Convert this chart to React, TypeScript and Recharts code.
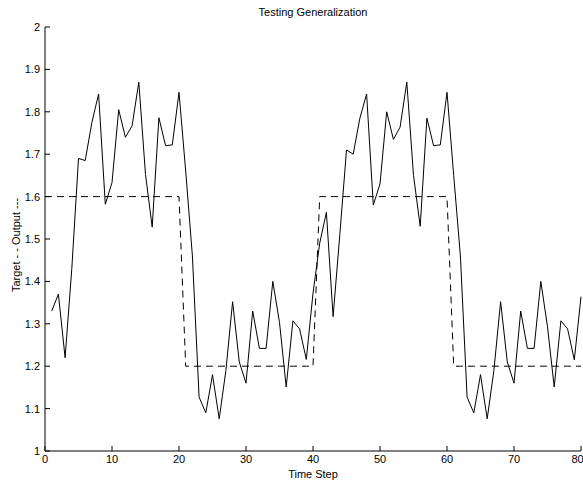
import { LineChart, Line, XAxis, YAxis } from 'recharts';

const steps = [
  0, 1, 2, 3, 4, 5, 6, 7, 8, 9, 10, 11, 12, 13, 14, 15, 16, 17, 18, 19, 20,
  21, 22, 23, 24, 25, 26, 27, 28, 29, 30, 31, 32, 33, 34, 35, 36, 37, 38, 39, 40,
  41, 42, 43, 44, 45, 46, 47, 48, 49, 50, 51, 52, 53, 54, 55, 56, 57, 58, 59, 60,
  61, 62, 63, 64, 65, 66, 67, 68, 69, 70, 71, 72, 73, 74, 75, 76, 77, 78, 79, 80,
];

// target, dashed
const target = [
  1.6, 1.6, 1.6, 1.6, 1.6, 1.6, 1.6, 1.6, 1.6, 1.6, 1.6, 1.6, 1.6, 1.6, 1.6, 1.6, 1.6, 1.6, 1.6, 1.6, 1.6,
  1.2, 1.2, 1.2, 1.2, 1.2, 1.2, 1.2, 1.2, 1.2, 1.2, 1.2, 1.2, 1.2, 1.2, 1.2, 1.2, 1.2, 1.2, 1.2, 1.2,
  1.6, 1.6, 1.6, 1.6, 1.6, 1.6, 1.6, 1.6, 1.6, 1.6, 1.6, 1.6, 1.6, 1.6, 1.6, 1.6, 1.6, 1.6, 1.6, 1.6,
  1.2, 1.2, 1.2, 1.2, 1.2, 1.2, 1.2, 1.2, 1.2, 1.2, 1.2, 1.2, 1.2, 1.2, 1.2, 1.2, 1.2, 1.2, 1.2, 1.2,
];

// network output, solid (no value at step 0)
const output = [
  null,
  1.33, 1.37, 1.22, 1.43, 1.69, 1.685, 1.775, 1.842, 1.582, 1.633,
  1.805, 1.74, 1.767, 1.87, 1.652, 1.528, 1.786, 1.72, 1.722, 1.846,
  1.66, 1.46, 1.127, 1.09, 1.18, 1.076, 1.19, 1.352, 1.21, 1.16,
  1.33, 1.242, 1.242, 1.4, 1.303, 1.151, 1.307, 1.288, 1.216, 1.372,
  1.49, 1.563, 1.317, 1.51, 1.71, 1.7, 1.785, 1.842, 1.58, 1.63,
  1.8, 1.735, 1.764, 1.87, 1.65, 1.53, 1.785, 1.72, 1.722, 1.846,
  1.65, 1.46, 1.127, 1.09, 1.18, 1.076, 1.19, 1.352, 1.21, 1.16,
  1.33, 1.242, 1.242, 1.4, 1.293, 1.151, 1.307, 1.288, 1.215, 1.364,
];

const xTicks = [0, 10, 20, 30, 40, 50, 60, 70, 80];
const yTicks = [1, 1.1, 1.2, 1.3, 1.4, 1.5, 1.6, 1.7, 1.8, 1.9, 2];

const data = steps.map((s, i) => ({ step: s, target: target[i], output: output[i] }));

const font = 'Liberation Sans, Arial, Helvetica, sans-serif';
const tickStyle = { fontSize: 11, fill: '#000', fontFamily: font };
const axisStroke = { stroke: '#000', strokeWidth: 1 };

export default function App() {
  return (
    <div style={{ position: 'absolute', left: 0, top: 0, width: 583, height: 481, background: '#fff' }}>
      <LineChart width={583} height={481} data={data} margin={{ top: 27, right: 2, bottom: 0, left: 0 }}>
        <XAxis
          dataKey="step"
          type="number"
          domain={[0, 80]}
          ticks={xTicks}
          height={30}
          tick={tickStyle}
          tickSize={-5}
          tickMargin={9}
          axisLine={axisStroke}
          tickLine={axisStroke}
        />
        <XAxis
          xAxisId="top"
          orientation="top"
          dataKey="step"
          type="number"
          domain={[0, 80]}
          ticks={xTicks}
          height={0}
          tick={false}
          tickSize={-5}
          axisLine={axisStroke}
          tickLine={axisStroke}
        />
        <YAxis
          type="number"
          domain={[1, 2]}
          ticks={yTicks}
          width={45}
          tick={tickStyle}
          tickSize={-5}
          tickMargin={10}
          axisLine={axisStroke}
          tickLine={axisStroke}
        />
        <YAxis
          yAxisId="right"
          orientation="right"
          type="number"
          domain={[1, 2]}
          ticks={yTicks}
          width={0}
          tick={false}
          tickSize={-5}
          axisLine={axisStroke}
          tickLine={axisStroke}
        />
        <Line
          type="linear"
          dataKey="target"
          stroke="#000"
          strokeWidth={1}
          strokeDasharray="7 5"
          dot={false}
          isAnimationActive={false}
        />
        <Line
          type="linear"
          dataKey="output"
          stroke="#000"
          strokeWidth={1}
          dot={false}
          isAnimationActive={false}
        />
      </LineChart>
      <svg
        width={583}
        height={481}
        style={{ position: 'absolute', left: 0, top: 0, pointerEvents: 'none' }}
        fontFamily={font}
        fontSize={11}
      >
        <text x={313} y={16} textAnchor="middle" fill="#000">Testing Generalization</text>
        <text x={313} y={478} textAnchor="middle" fill="#000">Time Step</text>
        <text transform="translate(20,245) rotate(-90)" textAnchor="middle" fill="#000">
          Target - -  Output ---
        </text>
      </svg>
    </div>
  );
}
